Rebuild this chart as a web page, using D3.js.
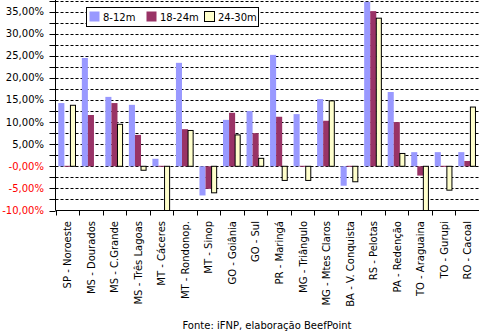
<!DOCTYPE html>
<html><head><meta charset="utf-8">
<script src="https://cdn.jsdelivr.net/npm/d3@7"></script>
<style>body{margin:0;background:#fff}svg{display:block;font-family:"DejaVu Sans",Verdana,sans-serif}</style>
</head><body><svg id="c" width="479" height="331"></svg>
<script>
const categories = ["SP - Noroeste","MS - Dourados","MS - C.Grande","MS - Três Lagoas","MT - Cáceres","MT - Rondonop.","MT - Sinop","GO - Goiânia","GO - Sul","PR - Maringá","MG - Triângulo","MG - Mtes Claros","BA - V. Conquista","RS - Pelotas","PA - Redenção","TO - Araguaina","TO - Gurupi","RO - Cacoal"];
const seriesNames = ["8-12m","18-24m","24-30m"];
const s812 = [14.3,24.5,15.7,13.9,1.7,23.4,-6.6,10.5,12.5,25.2,11.8,15.2,-4.4,37.2,16.8,3.2,3.2,3.2];
const s1824 = [0,11.6,14.3,7.1,0,8.4,-5.1,12.1,7.5,11.2,0,10.3,0,35.1,10.0,-2.1,0,1.2];
const s2430 = [13.8,0,9.5,-0.9,-10,8.1,-6.0,7.1,1.8,-3.2,-3.2,14.8,-3.5,33.5,2.9,-10,-5.4,13.4];
const yTicks = [-10,-5,0,5,10,15,20,25,30,35];
const gridTicks = [-7.5,-5,-2.5,0,2.5,5,7.5,10,12.5,15,17.5,20,22.5,25,27.5,30,32.5,35,37.5];
const colors = ["#9999FF","#993366","#FFFFCC"];
const source = "Fonte: iFNP, elaboração BeefPoint";

const svg = d3.select("#c");
const L = 55.5, R = 479, T = 0.5, B = 210.5;
const y = d3.scaleLinear().domain([-10,37.5]).range([B,T]);
const x = d3.scaleBand().domain(categories).range([L,R]).padding(0);
const x1 = d3.scaleBand().domain(seriesNames).range([2.8,21]).padding(0);
const data = [s812,s1824,s2430];

// gridlines
svg.append("g").selectAll("line").data(gridTicks).join("line")
  .attr("x1",L).attr("x2",R).attr("y1",d=>Math.round(y(d))+0.5).attr("y2",d=>Math.round(y(d))+0.5)
  .attr("stroke","#000").attr("stroke-width",1).attr("stroke-dasharray","3,2");

// bars
seriesNames.forEach((s,si)=>{
  const rows = categories.map((c,i)=>({c,v:data[si][i]})).filter(d=>!(si==2 && d.v===0));
  svg.append("g").selectAll("rect").data(rows).join("rect")
    .attr("x",d=>x(d.c)+x1(s))
    .attr("width",x1.bandwidth()-(si==2?1:0))
    .attr("y",d=>Math.min(y(d.v),y(0))-(d.v===0?0.5:0))
    .attr("height",d=>Math.max(Math.abs(y(d.v)-y(0)),1))
    .attr("fill",colors[si])
    .attr("stroke",si==2?"#000":"none").attr("stroke-width",1);
});

// y axis
const yAxis = svg.append("g");
yAxis.append("line").attr("x1",L).attr("x2",L).attr("y1",0).attr("y2",B).attr("stroke","#000");
yAxis.selectAll("line.t").data(gridTicks.concat([-10])).join("line").attr("class","t")
  .attr("x1",L-6).attr("x2",L).attr("y1",d=>Math.round(y(d))+0.5).attr("y2",d=>Math.round(y(d))+0.5).attr("stroke","#000");
yAxis.selectAll("text").data(yTicks).join("text")
  .attr("x",44).attr("y",d=>y(d)+3.5).attr("text-anchor","end").attr("font-size",10)
  .attr("fill",d=>d<=0?"#FF0000":"#000")
  .text(d=>(d<=0?"-":"")+Math.abs(d).toFixed(2).replace(".",",")+"%");

// x axis
const xAxis = svg.append("g");
xAxis.append("line").attr("x1",L).attr("x2",R).attr("y1",B).attr("y2",B).attr("stroke","#000");
xAxis.selectAll("line.t").data(categories.concat(["_end"])).join("line").attr("class","t")
  .attr("x1",(c,i)=>Math.round(L+i*x.bandwidth())+0.5).attr("x2",(c,i)=>Math.round(L+i*x.bandwidth())+0.5)
  .attr("y1",B).attr("y2",B+5).attr("stroke","#000");
xAxis.selectAll("text").data(categories).join("text")
  .attr("transform",c=>`translate(${x(c)+x.bandwidth()/2+4},221) rotate(-90)`)
  .attr("text-anchor","end").attr("font-size",10).text(c=>c);

// legend
const lg = svg.append("g");
lg.append("rect").attr("x",86.5).attr("y",7.5).attr("width",172).attr("height",19).attr("fill","#fff").attr("stroke","#000");
const lx = [89,146,204];
seriesNames.forEach((s,i)=>{
  lg.append("rect").attr("x",lx[i]+0.5).attr("y",11.5).attr("width",10).attr("height",10).attr("fill",colors[i]).attr("stroke",i==2?"#000":"none");
  lg.append("text").attr("x",lx[i]+14).attr("y",20.5).attr("font-size",10).text(s);
});

svg.append("text").attr("x",267).attr("y",329).attr("text-anchor","middle").attr("font-size",10).text(source);
</script></body></html>
